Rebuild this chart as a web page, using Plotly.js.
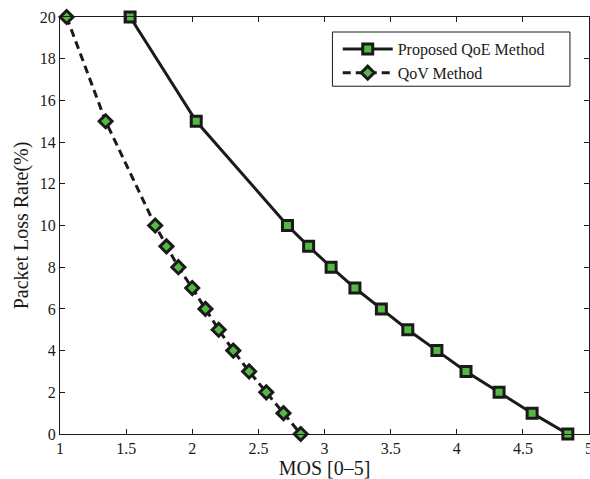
<!DOCTYPE html>
<html>
<head>
<meta charset="utf-8">
<script src="https://cdn.plot.ly/plotly-3.0.1.min.js"></script>
<style>html,body{margin:0;padding:0;background:#fff;}#chart{width:590px;height:479px;}</style>
</head>
<body>
<div id="chart"></div>
<script>
const packetLoss = [20, 15, 10, 9, 8, 7, 6, 5, 4, 3, 2, 1, 0];
const proposedMOS = [1.53, 2.03, 2.72, 2.88, 3.05, 3.23, 3.43, 3.63, 3.85, 4.07, 4.32, 4.57, 4.84];
const qovMOS = [1.05, 1.345, 1.72, 1.805, 1.895, 2.0, 2.10, 2.20, 2.31, 2.43, 2.56, 2.69, 2.82];
const seriesNames = ["Proposed QoE Method", "QoV Method"];
const xTicks = [1, 1.5, 2, 2.5, 3, 3.5, 4, 4.5, 5];
const yTicks = [0, 2, 4, 6, 8, 10, 12, 14, 16, 18, 20];

const green = '#55b845';
const ink = '#1a1a1a';
const font = 'Liberation Serif, Times New Roman, serif';

const traces = [
  {
    x: proposedMOS, y: packetLoss, name: seriesNames[0], type: 'scatter', mode: 'lines+markers',
    line: {color: ink, width: 3},
    marker: {symbol: 'square', size: 10, color: green, line: {color: ink, width: 3}},
    cliponaxis: false
  },
  {
    x: qovMOS, y: packetLoss, name: seriesNames[1], type: 'scatter', mode: 'lines+markers',
    line: {color: ink, width: 3, dash: '8px,5px'},
    marker: {symbol: 'diamond', size: 10, color: green, line: {color: ink, width: 3}},
    cliponaxis: false
  }
];

const axisCommon = {
  showgrid: false, zeroline: false, showline: true, linecolor: ink, linewidth: 1,
  mirror: 'allticks', ticks: 'inside', ticklen: 5, tickcolor: ink, tickwidth: 1,
  tickfont: {family: font, size: 16, color: ink}, ticklabeloverflow: 'allow'
};

const layout = {
  width: 590, height: 479,
  margin: {l: 60, r: 1, t: 17, b: 45},
  paper_bgcolor: '#fff', plot_bgcolor: '#fff',
  font: {family: font, color: ink},
  showlegend: true,
  legend: {
    x: 0.525, y: 0.964, xanchor: 'left', yanchor: 'top',
    bordercolor: ink, borderwidth: 0, bgcolor: 'rgba(0,0,0,0)',
    font: {family: font, size: 16, color: ink},
    tracegroupgap: 0, itemwidth: 50
  },
  shapes: [{
    type: 'rect', xref: 'paper', yref: 'paper', layer: 'below',
    x0: 0.515, x1: 0.964, y0: 0.834, y1: 0.964,
    line: {color: ink, width: 1}, fillcolor: '#fff'
  }],
  xaxis: Object.assign({}, axisCommon, {
    range: [1, 5], tickvals: xTicks, ticktext: xTicks.map(String),
    title: {text: 'MOS [0–5]', font: {family: font, size: 20, color: ink}, standoff: 3}
  }),
  yaxis: Object.assign({}, axisCommon, {
    range: [0, 20], tickvals: yTicks, ticktext: yTicks.map(String),
    title: {text: 'Packet Loss Rate(%)', font: {family: font, size: 20, color: ink}, standoff: 5}
  })
};

Plotly.newPlot('chart', traces, layout, {displayModeBar: false, staticPlot: true});
</script>
</body>
</html>
